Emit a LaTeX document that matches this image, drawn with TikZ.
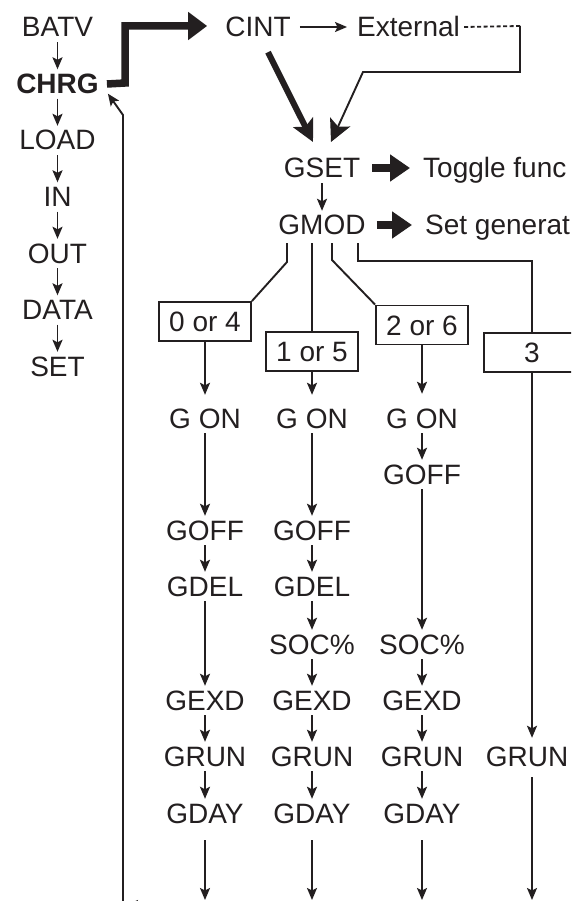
\documentclass[tikz,border=0pt]{standalone}
\usepackage{fontspec}
\setmainfont{Liberation Sans}
\usetikzlibrary{arrows.meta,calc}
\definecolor{ink}{RGB}{35,31,32}
\begin{document}
\begin{tikzpicture}[x=1pt,y=-1pt,
  lbl/.style={inner sep=0pt, text height=20pt, text depth=0pt, font=\fontsize{28}{32}\selectfont, text=ink},
  boldlbl/.style={lbl, font=\fontsize{28}{32}\selectfont\bfseries},
  boxn/.style={lbl, draw=ink, line width=1.9pt, minimum width=92pt, minimum height=39pt},
  thin/.style={draw=ink, line width=1.9pt},
  arr/.style={thin, -{Stealth[length=12pt,width=10pt,inset=2.5pt]}},
  sarr/.style={arr, shorten <=5pt, shorten >=4pt},
  bigtip/.style={-{Stealth[length=22pt,width=22pt,inset=5pt]}},
  fatarr/.style={draw=ink, line width=8pt, -{Triangle[length=20pt,width=26pt]}},
  dotline/.style={draw=ink, line width=1.8pt, dash pattern=on 4pt off 2.5pt}
]
\useasboundingbox (0,0) rectangle (571,901);
\fill[white] (0,0) rectangle (571,901);
\clip (0,0) rectangle (571,901);

% left menu column
\node[lbl] (batv) at (57.5,27) {BATV};
\node[boldlbl] (chrg) at (57.5,83.5) {CHRG};
\node[lbl] (load) at (57.5,140) {LOAD};
\node[lbl] (in) at (57.5,196.5) {IN};
\node[lbl] (out) at (57.5,253) {OUT};
\node[lbl] (data) at (57.5,309.5) {DATA};
\node[lbl] (set) at (57.5,366) {SET};
\foreach \a/\b in {batv/chrg, chrg/load, load/in, in/out, out/data, data/set}
  \draw[sarr] (\a.south) -- (\b.north);

% top row
\node[lbl] (cint) at (258,27) {CINT};
\node[lbl, anchor=west] (ext) at (357,27) {External};
\draw[arr, shorten <=9pt, shorten >=10pt] (cint.east) -- (ext.west);

% thick route CHRG -> CINT
\coordinate (k1) at (125,83);
\coordinate (k2) at (125,26);
\draw[draw=ink, line width=7.5pt, line join=miter, -{Triangle[length=19pt,width=27pt]}, shorten >=18pt]
  ([xshift=8pt,yshift=-0.5pt]chrg.east) -- (k1) -- (k2) -- (cint.west |- k2);

% GSET / GMOD
\node[lbl] (gset) at (322,168) {GSET};
\node[lbl] (gmod) at (322,225) {GMOD};
\node[lbl, anchor=west] (tog) at (423,168) {Toggle func};
\node[lbl, anchor=west] (setg) at (425,225) {Set generat};
\draw[fatarr] ([xshift=12pt]gset.east) -- ([xshift=-13pt]tog.west);
\draw[fatarr] ([xshift=11pt]gmod.east) -- ([xshift=-13pt]setg.west);
\draw[sarr] (gset.south) -- (gmod.north);

% arrows into GSET
\coordinate (t1) at (313,142);
\coordinate (t2) at (331,142);
\draw[draw=ink, line width=6pt, bigtip] ([xshift=10pt,yshift=-15pt]cint.south) -- (t1);
\coordinate (d0) at (520,26);
\coordinate (d1) at (520,72);
\coordinate (d2) at (363,72);
\draw[dotline] ([xshift=4pt]ext.east) -- (d0);
\draw[thin, line join=miter, bigtip] (d0) -- (d1) -- (d2) -- (t2);

% mode boxes
\node[boxn] (b1) at (205,321.5) {0 or 4};
\node[boxn] (b2) at (312,351.5) {1 or 5};
\node[boxn] (b3) at (422,325) {2 or 6};
\node[boxn, minimum width=96pt] (b4) at (532,352.5) {3};

% branches from GMOD
\coordinate (g1) at (287,243);
\coordinate (g2) at (312,243);
\coordinate (g3) at (332,243);
\coordinate (g4) at (358,243);
\draw[thin] (g1) -- (287,262) -- (b1.north east);
\draw[thin] (g2) -- (b2.north);
\draw[thin] (g3) -- (332,260) -- (b3.north west);
\draw[thin, line join=miter] (g4) -- (358,261) -- (532,261) -- (b4.north);

% column 1
\node[lbl] (on1) at (205,418) {G ON};
\node[lbl] (off1) at (205,530) {GOFF};
\node[lbl] (del1) at (205,586) {GDEL};
\node[lbl] (exd1) at (205,700) {GEXD};
\node[lbl] (run1) at (205,756) {GRUN};
\node[lbl] (day1) at (205,813) {GDAY};
% column 2
\node[lbl] (on2) at (312,418) {G ON};
\node[lbl] (off2) at (312,530) {GOFF};
\node[lbl] (del2) at (312,586) {GDEL};
\node[lbl] (soc2) at (312,644) {SOC\%};
\node[lbl] (exd2) at (312,700) {GEXD};
\node[lbl] (run2) at (312,756) {GRUN};
\node[lbl] (day2) at (312,813) {GDAY};
% column 3
\node[lbl] (on3) at (422,418) {G ON};
\node[lbl] (off3) at (422,474) {GOFF};
\node[lbl] (soc3) at (422,644) {SOC\%};
\node[lbl] (exd3) at (422,700) {GEXD};
\node[lbl] (run3) at (422,756) {GRUN};
\node[lbl] (day3) at (422,813) {GDAY};
% column 4
\node[lbl] (run4) at (527,756) {GRUN};

\draw[arr, shorten >=13pt] (b1.south) -- (on1.north);
\draw[arr, shorten >=13pt] (b2.south) -- (on2.north);
\draw[arr, shorten >=14pt] (b3.south) -- (on3.north);
\draw[arr, shorten >=8pt] (b4.south) -- (b4.south |- run4.north);

\foreach \a/\b in {on1/off1, off1/del1, del1/exd1, exd1/run1, run1/day1,
                   on2/off2, off2/del2, del2/soc2, soc2/exd2, exd2/run2, run2/day2,
                   on3/off3, off3/soc3, soc3/exd3, exd3/run3, run3/day3}
  \draw[sarr] (\a.south) -- (\b.north);

% exits at the bottom
\coordinate (e1) at (205,900);
\coordinate (e2) at (312,900);
\coordinate (e3) at (422,900);
\coordinate (e4) at (532,900);
\draw[arr, shorten <=17pt] (day1.south) -- (e1);
\draw[arr, shorten <=17pt] (day2.south) -- (e2);
\draw[arr, shorten <=17pt] (day3.south) -- (e3);
\draw[arr, shorten <=11pt] (e4 |- run4.south) -- (e4);

% return line into CHRG
\coordinate (r0) at (123,930);
\coordinate (r1) at (123,115);
\draw[arr, line join=miter] (r0) -- (r1) -- ([xshift=9pt]chrg.south east);
\coordinate (r2) at (300,905);
\coordinate (r3) at (126,905);
\draw[arr] (r2) -- (r3);
\end{tikzpicture}
\end{document}
